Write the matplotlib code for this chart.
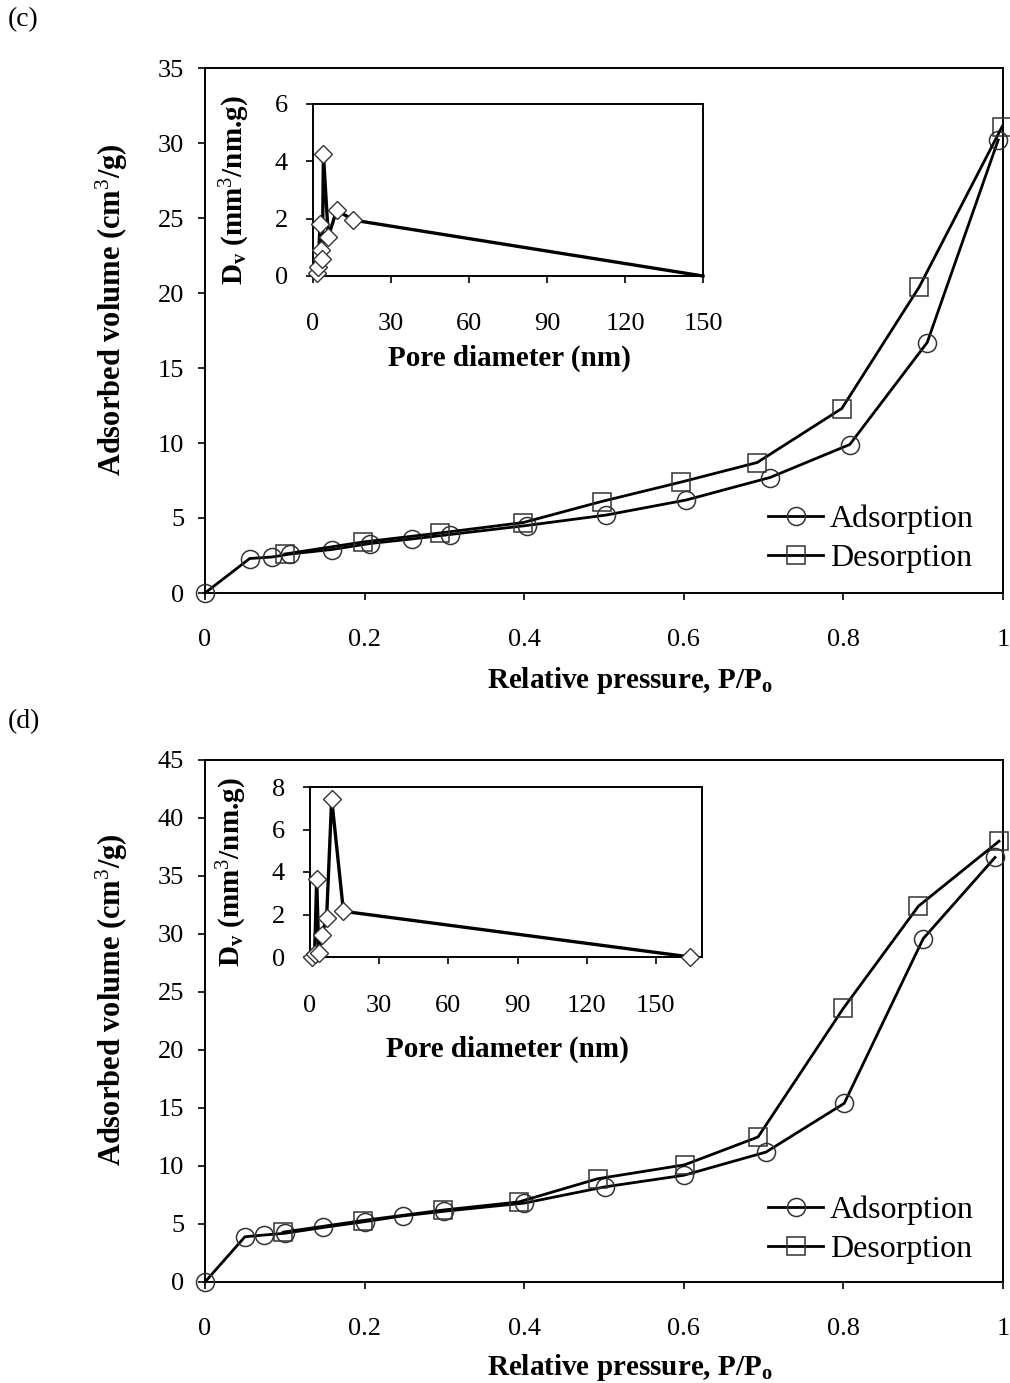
import matplotlib
matplotlib.use('Agg')
import matplotlib.pyplot as plt

plt.rcParams['font.family'] = ['Liberation Serif', 'DejaVu Serif']
plt.rcParams['mathtext.fontset'] = 'custom'
plt.rcParams['mathtext.rm'] = 'Liberation Serif'
plt.rcParams['mathtext.bf'] = 'Liberation Serif:bold'
plt.rcParams['mathtext.it'] = 'Liberation Serif:italic'

# panel (c) isotherm
ads_c_x = [0, 0.056, 0.084, 0.107, 0.159, 0.207, 0.259, 0.307, 0.403, 0.503, 0.603, 0.708, 0.808, 0.905, 0.994]
ads_c_y = [0, 2.3, 2.4, 2.6, 2.9, 3.3, 3.6, 3.9, 4.5, 5.2, 6.2, 7.7, 9.9, 16.7, 30.2]
des_c_x = [0.1, 0.198, 0.294, 0.399, 0.497, 0.597, 0.692, 0.798, 0.895, 0.999]
des_c_y = [2.6, 3.4, 4.0, 4.7, 6.1, 7.4, 8.7, 12.3, 20.4, 31.1]
# panel (c) pore size distribution
psd_c_x = [1.5, 2.0, 2.7, 3.2, 3.6, 4.0, 5.9, 9.1, 15.5, 150]
psd_c_y = [0.1, 0.3, 1.8, 0.9, 0.6, 4.24, 1.37, 2.3, 1.95, 0.0]

# panel (d) isotherm
ads_d_x = [0, 0.05, 0.074, 0.10, 0.148, 0.20, 0.248, 0.30, 0.40, 0.501, 0.60, 0.703, 0.801, 0.90, 0.99]
ads_d_y = [0, 3.9, 4.05, 4.2, 4.7, 5.2, 5.7, 6.1, 6.8, 8.2, 9.2, 11.2, 15.4, 29.6, 36.6]
des_d_x = [0.098, 0.198, 0.298, 0.393, 0.492, 0.601, 0.693, 0.80, 0.894, 0.995]
des_d_y = [4.3, 5.3, 6.2, 6.9, 8.9, 10.1, 12.5, 23.6, 32.4, 38.0]
# panel (d) pore size distribution
psd_d_x = [0.7, 2.0, 2.9, 3.8, 5.1, 7.2, 9.4, 14.5, 165]
psd_d_y = [0.0, 0.15, 3.65, 0.2, 1.04, 1.83, 7.44, 2.15, 0.0]

main_xticks = [0, 0.2, 0.4, 0.6, 0.8, 1.0]
main_xlabels = ['0', '0.2', '0.4', '0.6', '0.8', '1']
inset_xticks = [0, 30, 60, 90, 120, 150]

W, H = 1010, 1383
fig = plt.figure(figsize=(W / 100, H / 100), dpi=100)


def box(l, t, r, b):
    return [l / W, 1 - b / H, (r - l) / W, (b - t) / H]


def style(ax, xpad, ypad):
    for s in ax.spines.values():
        s.set_linewidth(1.4)
    ax.tick_params(direction='out', length=5, width=1.2, labelsize=19)
    ax.tick_params(axis='x', pad=xpad)
    ax.tick_params(axis='y', pad=ypad)


def panel(rect, inset_rect, ax_x, ax_y, de_x, de_y, ps_x, ps_y, ymax, iymax, ixmax,
          tag, tag_y, xlab_y, leg_y, ixlab_y, last_marker):
    ax = fig.add_axes(box(*rect))
    ax.plot(ax_x, ax_y, color='black', lw=2, marker='o', ms=13, mfc='none',
            mec='#333333', mew=1.1, label='Adsorption', clip_on=False, zorder=3)
    ax.plot(de_x, de_y, color='black', lw=2, marker='s', ms=13, mfc='none',
            mec='#333333', mew=1.1, label='Desorption', clip_on=False, zorder=3)
    ax.set_xlim(0, 1)
    ax.set_ylim(0, ymax)
    ax.set_xticks(main_xticks)
    ax.set_xticklabels(main_xlabels)
    ax.set_yticks(range(0, ymax + 1, 5))
    style(ax, 21, 10)
    ax.set_xlabel(r'Relative pressure, P/P$_\mathbf{o}$', fontsize=21, fontweight='bold')
    ax.set_ylabel('Adsorbed volume (cm$^3$/g)', fontsize=22, fontweight='bold')
    ax.xaxis.set_label_coords(0.533, xlab_y)
    ax.yaxis.set_label_coords(-0.094, 0.54)
    ax.legend(loc='upper left', bbox_to_anchor=(0.705, leg_y), frameon=False,
              fontsize=23, handlelength=1.75, handletextpad=0.2,
              labelspacing=0.3, borderpad=0, borderaxespad=0, numpoints=1)

    ins = fig.add_axes(box(*inset_rect))
    marks = list(range(len(ps_x))) if last_marker else list(range(len(ps_x) - 1))
    ins.plot(ps_x, ps_y, color='black', lw=2.4, marker='D', ms=9, mfc='white',
             mec='#333333', mew=1.0, markevery=marks, clip_on=False, zorder=3)
    ins.set_xlim(0, ixmax)
    ins.set_ylim(0, iymax)
    ins.set_xticks(inset_xticks)
    ins.set_yticks(range(0, iymax + 1, 2))
    style(ins, 22, 13)
    ins.set_xlabel('Pore diameter (nm)', fontsize=21, fontweight='bold')
    ins.set_ylabel(r'D$_\mathbf{v}$ (mm$^3$/nm.g)', fontsize=21, fontweight='bold')
    ins.xaxis.set_label_coords(0.503, ixlab_y)
    ins.yaxis.set_label_coords(-0.156, 0.5)

    fig.text(8 / W, 1 - tag_y / H, tag, fontsize=20, va='center', ha='left')


panel((205, 68, 1003, 593), (313, 104, 703, 276), ads_c_x, ads_c_y, des_c_x, des_c_y,
      psd_c_x, psd_c_y, 35, 6, 150, '(c)', 20, -0.137, 0.168, -0.40, False)
panel((205, 760, 1003, 1282), (310, 787, 702, 957), ads_d_x, ads_d_y, des_d_x, des_d_y,
      psd_d_x, psd_d_y, 45, 8, 170, '(d)', 722, -0.135, 0.166, -0.46, True)

fig.savefig('out.png', dpi=100)
